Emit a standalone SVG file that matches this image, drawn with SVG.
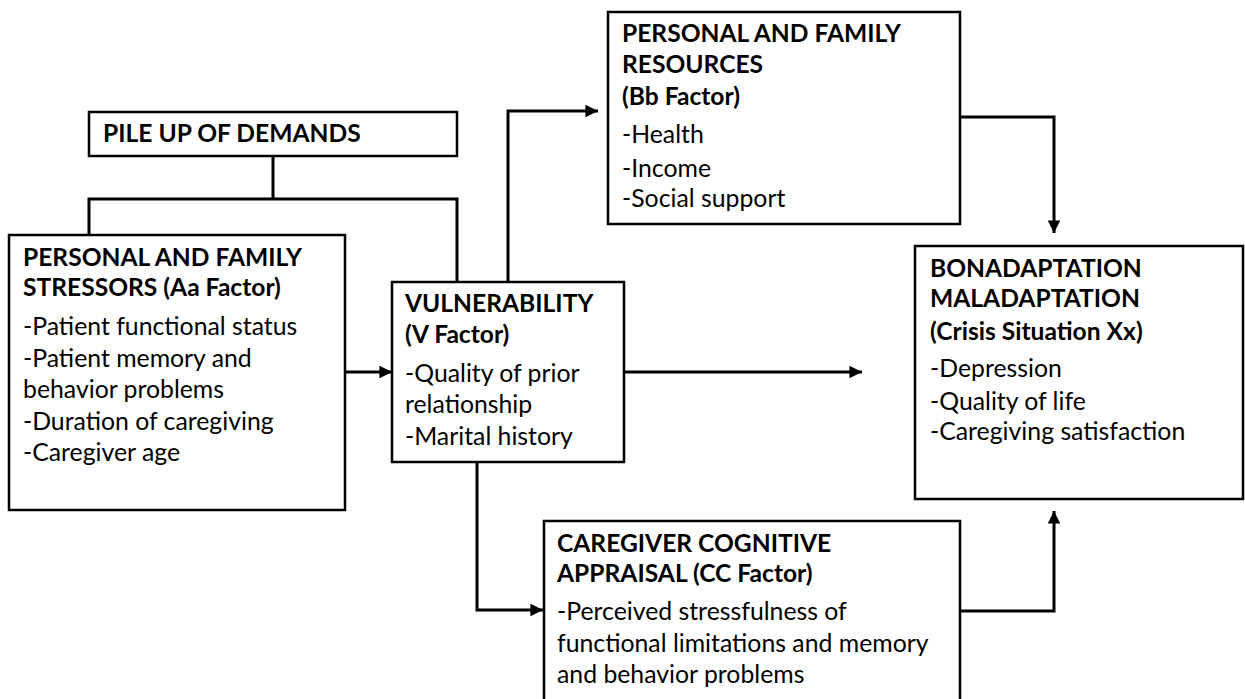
<svg xmlns="http://www.w3.org/2000/svg" width="1245" height="699" viewBox="0 0 1245 699">
  <style>
    .box { fill: #ffffff; stroke: #000000; stroke-width: 2.5; }
    .link { fill: none; stroke: #000000; stroke-width: 3; }
    .hd { font-family: Lato, "Liberation Sans", sans-serif; font-weight: bold; font-size: 24.6px; fill: #000000; }
    .tx { font-family: Lato, "Liberation Sans", sans-serif; font-size: 24.8px; fill: #000000; }
  </style>
  <defs>
    <marker id="arrow" viewBox="0 0 10 10" refX="10" refY="5" markerWidth="4.2" markerHeight="4.2" markerUnits="strokeWidth" orient="auto">
      <path d="M0,0 L10,5 L0,10 Z" fill="#000000"/>
    </marker>
  </defs>
  <rect width="1245" height="699" fill="#ffffff"/>

  <!-- connectors -->
  <g id="connectors">
    <!-- pile up of demands branches into stressors and vulnerability -->
    <path class="link" d="M273,156 V199"/>
    <path class="link" d="M89,235 V199 H457 V282"/>
    <!-- stressors to vulnerability -->
    <path class="link" d="M345,372 H392" marker-end="url(#arrow)"/>
    <!-- vulnerability to resources -->
    <path class="link" d="M508,282 V111 H598" marker-end="url(#arrow)"/>
    <!-- vulnerability to outcome -->
    <path class="link" d="M624,372 H862" marker-end="url(#arrow)"/>
    <!-- vulnerability to appraisal -->
    <path class="link" d="M477,462 V610 H543" marker-end="url(#arrow)"/>
    <!-- resources to outcome -->
    <path class="link" d="M960,117 H1054 V233" marker-end="url(#arrow)"/>
    <!-- appraisal to outcome -->
    <path class="link" d="M960,611 H1054 V511" marker-end="url(#arrow)"/>
  </g>

  <g id="pile-up">
    <rect class="box" x="89" y="112" width="368" height="44"/>
    <text class="hd" x="103" y="142">PILE UP OF DEMANDS</text>
  </g>

  <g id="stressors">
    <rect class="box" x="9" y="235" width="336" height="275"/>
    <text class="hd" x="23" y="266">PERSONAL AND FAMILY</text>
    <text class="hd" x="23" y="296">STRESSORS (Aa Factor)</text>
    <text class="tx" x="23" y="335">-Patient functional status</text>
    <text class="tx" x="23" y="367">-Patient memory and</text>
    <text class="tx" x="23" y="398">behavior problems</text>
    <text class="tx" x="23" y="430">-Duration of caregiving</text>
    <text class="tx" x="23" y="461">-Caregiver age</text>
  </g>

  <g id="vulnerability">
    <rect class="box" x="392" y="282" width="232" height="180"/>
    <text class="hd" x="405" y="312">VULNERABILITY</text>
    <text class="hd" x="405" y="343">(V Factor)</text>
    <text class="tx" x="405" y="382">-Quality of prior</text>
    <text class="tx" x="405" y="413">relationship</text>
    <text class="tx" x="405" y="445">-Marital history</text>
  </g>

  <g id="resources">
    <rect class="box" x="608" y="12" width="352" height="212"/>
    <text class="hd" x="622" y="42">PERSONAL AND FAMILY</text>
    <text class="hd" x="622" y="73">RESOURCES</text>
    <text class="hd" x="622" y="105">(Bb Factor)</text>
    <text class="tx" x="622" y="143">-Health</text>
    <text class="tx" x="622" y="177">-Income</text>
    <text class="tx" x="622" y="207">-Social support</text>
  </g>

  <g id="outcome">
    <rect class="box" x="915" y="246" width="328" height="253"/>
    <text class="hd" x="930" y="277">BONADAPTATION</text>
    <text class="hd" x="930" y="307">MALADAPTATION</text>
    <text class="hd" x="930" y="340">(Crisis Situation Xx)</text>
    <text class="tx" x="930" y="377">-Depression</text>
    <text class="tx" x="930" y="410">-Quality of life</text>
    <text class="tx" x="930" y="440">-Caregiving satisfaction</text>
  </g>

  <g id="appraisal">
    <rect class="box" x="544" y="521" width="416" height="190"/>
    <text class="hd" x="557" y="552">CAREGIVER COGNITIVE</text>
    <text class="hd" x="557" y="582">APPRAISAL (CC Factor)</text>
    <text class="tx" x="557" y="620">-Perceived stressfulness of</text>
    <text class="tx" x="557" y="652">functional limitations and memory</text>
    <text class="tx" x="557" y="683">and behavior problems</text>
  </g>
</svg>
